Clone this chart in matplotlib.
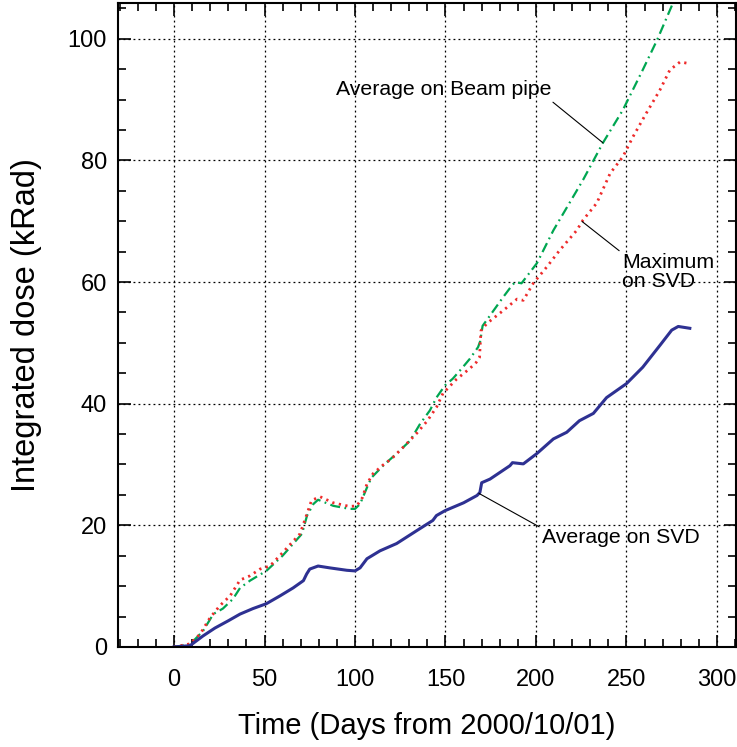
import numpy as np
import matplotlib
matplotlib.use("Agg")
import matplotlib.pyplot as plt
from matplotlib.ticker import MultipleLocator

plt.rcParams['font.family'] = ['Liberation Sans', 'DejaVu Sans']

# Average on SVD (solid blue)
days_svd = [0, 8.8, 16, 22.6, 30, 36.5, 43.6, 51, 58.6, 65.8, 71.5, 73.3, 75,
            79.6, 86, 95.5, 100, 102.8, 106.6, 113.8, 123, 134, 143, 145,
            149.7, 160, 167.4, 169, 170, 174.6, 185.6, 187, 193, 200.5,
            209.6, 217, 224, 231.7, 239, 250, 259, 268.5, 275, 278.6, 285]
avg_svd = [0, 0.2, 1.8, 3.1, 4.3, 5.4, 6.3, 7.1, 8.4, 9.7, 10.9, 12.0, 12.8,
           13.3, 13.0, 12.6, 12.5, 13.0, 14.5, 15.8, 17.0, 19.1, 20.8, 21.6,
           22.4, 23.7, 24.9, 25.4, 27.0, 27.6, 29.8, 30.3, 30.1, 31.8,
           34.2, 35.3, 37.2, 38.4, 41.0, 43.3, 46.0, 49.6, 52.1, 52.7, 52.4]

# Maximum on SVD (red dotted)
days_max = [0, 8.8, 14.4, 19.9, 25.4, 31, 36.5, 42, 47.5, 53, 60, 69.6, 73.5,
            76, 80.7, 88, 97, 101, 104, 106.6, 110, 115, 120.4, 126.5, 134,
            140, 145, 148.6, 156, 163.5, 167, 168.8, 169.6, 172.9, 181.8,
            189.5, 193, 198.5, 206, 213, 222.5, 226, 233.6, 241, 248, 253.6,
            261, 268.5, 274, 279.6, 283.4]
max_svd = [0, 0.5, 2.1, 4.8, 6.8, 8.4, 11.0, 11.7, 12.8, 13.3, 15.5, 18.6,
           21.9, 24.1, 24.7, 23.7, 23.1, 23.2, 24.5, 26.8, 28.5, 29.8, 31.0,
           32.8, 35.1, 37.2, 39.4, 41.7, 44.0, 45.8, 46.8, 47.6, 52.0, 53.2,
           55.3, 57.2, 57.0, 59.8, 62.5, 65.2, 68.5, 70.2, 73.0, 77.9, 80.6,
           83.9, 87.8, 91.6, 94.9, 96.2, 96.0]

# Average on Beam pipe (green dash-dot)
days_bp = [0, 8.8, 16, 21.7, 27, 32.6, 36.5, 42, 51, 60, 70.7, 73.5, 77, 79.6,
           88, 97, 100, 102.8, 106.6, 109, 115.5, 123, 130.4, 136, 141.4, 145,
           149.7, 154, 159, 163.5, 168, 169.2, 170.5, 174.6, 181.8, 185.6,
           188.4, 192, 200.5, 209.6, 226, 237, 248, 259, 266.9, 275.7, 283]
beam_pipe = [0, 0.4, 2.6, 5.4, 6.3, 7.9, 9.7, 10.9, 12.5, 15.0, 18.6, 21.6,
             23.5, 24.2, 23.2, 22.7, 22.7, 23.5, 26.2, 27.8, 29.8, 31.8, 33.9,
             36.7, 38.9, 41.0, 43.0, 44.1, 45.8, 47.4, 49.3, 50.3, 52.8, 54.5,
             57.5, 59.0, 60.0, 59.8, 63.1, 68.5, 76.8, 82.9, 88.3, 94.9, 99.8,
             105.9, 108.0]

fig = plt.figure(figsize=(7.37, 7.47), dpi=100)
ax = fig.add_axes([0.160, 0.134, 0.8386, 0.862])

ax.plot(days_bp, beam_pipe, color='#00A651', lw=1.6,
        linestyle=(0, (4.5, 2, 0.8, 2)))
ax.plot(days_max, max_svd, color='#EE2B2B', lw=2.0,
        linestyle=(0, (0.8, 1.6)))
ax.plot(days_svd, avg_svd, color='#2E3192', lw=2.2)

ax.set_xlim(-31, 310.5)
ax.set_ylim(0, 105.9)
ax.xaxis.set_major_locator(MultipleLocator(50))
ax.xaxis.set_minor_locator(MultipleLocator(10))
ax.yaxis.set_major_locator(MultipleLocator(20))
ax.yaxis.set_minor_locator(MultipleLocator(5))

ax.grid(True, which='major', color='black', lw=0.9,
        linestyle=(0, (1.5, 2.5)))
ax.tick_params(which='both', direction='in', top=True, right=True,
               labelsize=17, width=1.2)
ax.tick_params(which='major', length=9)
ax.tick_params(which='minor', length=6)
ax.tick_params(axis='x', pad=16)
ax.tick_params(axis='y', pad=8)
for sp in ax.spines.values():
    sp.set_linewidth(1.5)

ax.set_xlabel("Time (Days from 2000/10/01)", fontsize=21, labelpad=15)
ax.set_ylabel("Integrated dose (kRad)", fontsize=23.5, labelpad=18)

line_props = dict(arrowstyle='-', color='black', lw=0.8,
                  shrinkA=0, shrinkB=0)

ax.annotate("Average on Beam pipe",
            xy=(237, np.interp(237, days_bp, beam_pipe)),
            xytext=(89.5, 91.6), ha='left', va='center', fontsize=15.3,
            arrowprops=dict(relpos=(0.98, 0.1), **line_props))
ax.annotate("Maximum\non SVD",
            xy=(225.5, np.interp(225.5, days_max, max_svd)),
            xytext=(247.5, 64.8), ha='left', va='top', fontsize=15.3,
            linespacing=1.0,
            arrowprops=dict(relpos=(0.0, 1.0), **line_props))
ax.annotate("Average on SVD",
            xy=(168.5, np.interp(168.5, days_svd, avg_svd)),
            xytext=(203.3, 19.5), ha='left', va='top', fontsize=15.3,
            arrowprops=dict(relpos=(0.0, 1.0), **line_props))

fig.savefig("out.png", dpi=100)
